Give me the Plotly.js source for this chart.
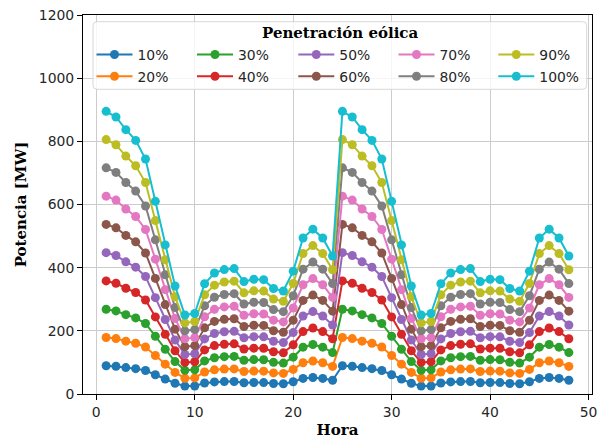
<!DOCTYPE html>
<html>
<head>
<meta charset="utf-8">
<script src="https://cdn.plot.ly/plotly-3.0.1.min.js"></script>
<style>html,body{margin:0;padding:0;background:#fff}#chart{width:604px;height:439px}</style>
</head>
<body>
<div id="chart"></div>
<script>
const hours = [1,2,3,4,5,6,7,8,9,10,11,12,13,14,15,16,17,18,19,20,21,22,23,24,
  25,26,27,28,29,30,31,32,33,34,35,36,37,38,39,40,41,42,43,44,45,46,47,48];

const seriesNames = ["10%","20%","30%","40%","50%","60%","70%","80%","90%","100%"];

const p10 = [89.5,87.7,83.7,80.3,74.4,61.0,47.2,34.2,25.0,25.5,34.9,38.3,39.4,39.7,35.6,36.3,36.2,33.4,32.6,38.9,49.4,52.2,49.4,43.7,
  89.5,87.7,83.7,80.3,74.4,61.0,47.2,34.2,25.0,25.5,34.9,38.3,39.4,39.7,35.6,36.3,36.2,33.4,32.6,38.9,49.4,52.2,49.4,43.7];
const p20 = [179,175.4,167.4,160.6,148.8,122,94.4,68.4,50,51,69.8,76.6,78.8,79.4,71.2,72.6,72.4,66.8,65.2,77.8,98.8,104.4,98.8,87.4,
  179,175.4,167.4,160.6,148.8,122,94.4,68.4,50,51,69.8,76.6,78.8,79.4,71.2,72.6,72.4,66.8,65.2,77.8,98.8,104.4,98.8,87.4];
const p30 = [268.5,263.1,251.1,240.9,223.2,183,141.6,102.6,75,76.5,104.7,114.9,118.2,119.1,106.8,108.9,108.6,100.2,97.8,116.7,148.2,156.6,148.2,131.1,
  268.5,263.1,251.1,240.9,223.2,183,141.6,102.6,75,76.5,104.7,114.9,118.2,119.1,106.8,108.9,108.6,100.2,97.8,116.7,148.2,156.6,148.2,131.1];
const p40 = [358,350.8,334.8,321.2,297.6,244,188.8,136.8,100,102,139.6,153.2,157.6,158.8,142.4,145.2,144.8,133.6,130.4,155.6,197.6,208.8,197.6,174.8,
  358,350.8,334.8,321.2,297.6,244,188.8,136.8,100,102,139.6,153.2,157.6,158.8,142.4,145.2,144.8,133.6,130.4,155.6,197.6,208.8,197.6,174.8];
const p50 = [447.5,438.5,418.5,401.5,372,305,236,171,125,127.5,174.5,191.5,197,198.5,178,181.5,181,167,163,194.5,247,261,247,218.5,
  447.5,438.5,418.5,401.5,372,305,236,171,125,127.5,174.5,191.5,197,198.5,178,181.5,181,167,163,194.5,247,261,247,218.5];
const p60 = [537,526.2,502.2,481.8,446.4,366,283.2,205.2,150,153,209.4,229.8,236.4,238.2,213.6,217.8,217.2,200.4,195.6,233.4,296.4,313.2,296.4,262.2,
  537,526.2,502.2,481.8,446.4,366,283.2,205.2,150,153,209.4,229.8,236.4,238.2,213.6,217.8,217.2,200.4,195.6,233.4,296.4,313.2,296.4,262.2];
const p70 = [626.5,613.9,585.9,562.1,520.8,427,330.4,239.4,175,178.5,244.3,268.1,275.8,277.9,249.2,254.1,253.4,233.8,228.2,272.3,345.8,365.4,345.8,305.9,
  626.5,613.9,585.9,562.1,520.8,427,330.4,239.4,175,178.5,244.3,268.1,275.8,277.9,249.2,254.1,253.4,233.8,228.2,272.3,345.8,365.4,345.8,305.9];
const p80 = [716,701.6,669.6,642.4,595.2,488,377.6,273.6,200,204,279.2,306.4,315.2,317.6,284.8,290.4,289.6,267.2,260.8,311.2,395.2,417.6,395.2,349.6,
  716,701.6,669.6,642.4,595.2,488,377.6,273.6,200,204,279.2,306.4,315.2,317.6,284.8,290.4,289.6,267.2,260.8,311.2,395.2,417.6,395.2,349.6];
const p90 = [805.5,789.3,753.3,722.7,669.6,549,424.8,307.8,225,229.5,314.1,344.7,354.6,357.3,320.4,326.7,325.8,300.6,293.4,350.1,444.6,469.8,444.6,393.3,
  805.5,789.3,753.3,722.7,669.6,549,424.8,307.8,225,229.5,314.1,344.7,354.6,357.3,320.4,326.7,325.8,300.6,293.4,350.1,444.6,469.8,444.6,393.3];
const p100 = [895,877,837,803,744,610,472,342,250,255,349,383,394,397,356,363,362,334,326,389,494,522,494,437,
  895,877,837,803,744,610,472,342,250,255,349,383,394,397,356,363,362,334,326,389,494,522,494,437];

const seriesValues = [p10,p20,p30,p40,p50,p60,p70,p80,p90,p100];
const colors = ["#1f77b4","#ff7f0e","#2ca02c","#d62728","#9467bd","#8c564b","#e377c2","#7f7f7f","#bcbd22","#17becf"];
const legendTitle = "Penetración eólica";

// geometry helpers (plot area: left 83px, width 509px; top 15px, height 379px)
const PL = 83, PW = 509, PT = 15, PH = 379;
const px2x = p => (p - PL) / PW;
const py2y = p => (PT + PH - p) / PH;

const traces = seriesNames.map((name, i) => ({
  type: "scatter",
  mode: "lines+markers",
  name: name,
  x: hours,
  y: seriesValues[i],
  line: {color: colors[i], width: 2},
  marker: {color: colors[i], size: 9, symbol: "circle"},
  legend: i === 0 ? "legend" : "legend" + (i + 1)
}));

const layout = {
  width: 604, height: 439,
  margin: {l: PL, r: 604 - PL - PW, t: PT, b: 439 - PT - PH, pad: 0},
  paper_bgcolor: "#ffffff",
  plot_bgcolor: "#ffffff",
  font: {family: "DejaVu Sans", size: 13.9, color: "#000"},
  showlegend: true,
  xaxis: {
    range: [-1.35, 50.35],
    tickvals: [0,10,20,30,40,50],
    ticks: "outside", ticklen: 5, tickwidth: 1, tickcolor: "#000",
    showgrid: true, gridcolor: "#cccccc", gridwidth: 1.2,
    zeroline: false,
    showline: true, linecolor: "#000", linewidth: 1, mirror: true,
    tickfont: {family: "DejaVu Sans", size: 13.9, color: "#262626"},
    title: {text: "Hora", font: {family: "DejaVu Serif", size: 15, weight: "bold", color: "#000"}, standoff: 6}
  },
  yaxis: {
    range: [0, 1200],
    tickvals: [0,200,400,600,800,1000,1200],
    ticks: "outside", ticklen: 5, tickwidth: 1, tickcolor: "#000",
    showgrid: true, gridcolor: "#cccccc", gridwidth: 1.2,
    zeroline: false,
    showline: true, linecolor: "#000", linewidth: 1, mirror: true,
    tickfont: {family: "DejaVu Sans", size: 13.9, color: "#262626"},
    title: {text: "Potencia [MW]", font: {family: "DejaVu Serif", size: 15, weight: "bold", color: "#000"}, standoff: 8}
  },
  shapes: [],
  annotations: [{
    xref: "paper", yref: "paper",
    x: px2x(340), y: py2y(33.5),
    xanchor: "center", yanchor: "middle",
    showarrow: false,
    text: "<b>" + legendTitle + "</b>",
    font: {family: "DejaVu Serif", size: 15, color: "#000"}
  }]
};

// legend frame (rounded, semi-transparent white)
(function () {
  const x0 = 93, x1 = 586.7, y0 = 21.7, y1 = 89.3, r = 4;
  const X = px2x, Y = py2y;
  const path = [
    "M", X(x0 + r), Y(y0),
    "L", X(x1 - r), Y(y0),
    "Q", X(x1), Y(y0), X(x1), Y(y0 + r),
    "L", X(x1), Y(y1 - r),
    "Q", X(x1), Y(y1), X(x1 - r), Y(y1),
    "L", X(x0 + r), Y(y1),
    "Q", X(x0), Y(y1), X(x0), Y(y1 - r),
    "L", X(x0), Y(y0 + r),
    "Q", X(x0), Y(y0), X(x0 + r), Y(y0),
    "Z"
  ].join(" ");
  layout.shapes.push({
    type: "path", xref: "paper", yref: "paper", path: path,
    fillcolor: "rgba(255,255,255,0.8)",
    line: {color: "#d8d8d8", width: 1},
    layer: "above"
  });
})();

// one single-item legend per series, arranged column-major in 2 rows x 5 columns
const colStartPx = [91.5, 192, 293.3, 393.5, 493.3];
const rowCenterPx = [55, 76.7];
seriesNames.forEach((name, i) => {
  const key = i === 0 ? "legend" : "legend" + (i + 1);
  const col = Math.floor(i / 2), row = i % 2;
  layout[key] = {
    x: px2x(colStartPx[col]), y: py2y(rowCenterPx[row]),
    xanchor: "left", yanchor: "middle",
    xref: "paper", yref: "paper",
    bgcolor: "rgba(0,0,0,0)", borderwidth: 0,
    itemwidth: 36,
    font: {family: "DejaVu Sans", size: 13.9, color: "#262626"}
  };
});

Plotly.newPlot("chart", traces, layout, {displayModeBar: false, staticPlot: true});
</script>
</body>
</html>
